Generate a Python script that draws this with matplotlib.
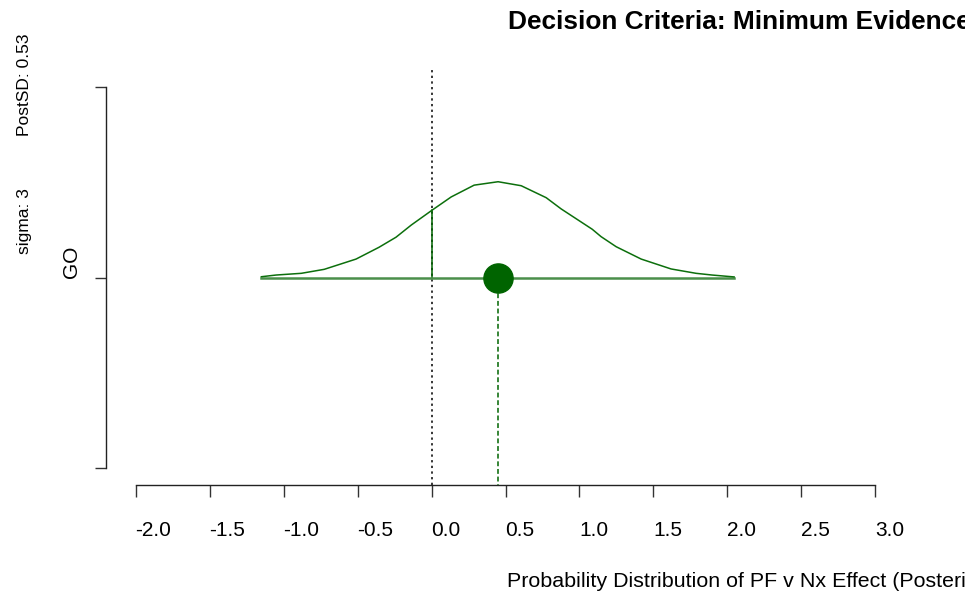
import matplotlib
matplotlib.use('Agg')
import matplotlib.pyplot as plt
import numpy as np

plt.rcParams['font.family'] = ['Liberation Sans', 'DejaVu Sans']

# posterior density curve (drawn on top of the GO row, baseline y = 1)
curve_x = [-1.15, -1.05, -0.88, -0.725, -0.51, -0.355, -0.24, -0.137, 0.005, 0.133,
           0.288, 0.45, 0.606, 0.775, 0.876, 1.086, 1.146, 1.248, 1.417, 1.619,
           1.788, 1.896, 2.045]
curve_y = [1.004, 1.013, 1.022, 1.043, 1.097, 1.159, 1.212, 1.276, 1.355, 1.424,
           1.486, 1.504, 1.483, 1.420, 1.361, 1.254, 1.215, 1.162, 1.097, 1.045,
           1.022, 1.013, 1.003]
row_y = 1.0
post_mean = 0.45
threshold = 0.0
threshold_height = 1.355

xticks = [-2.0, -1.5, -1.0, -0.5, 0.0, 0.5, 1.0, 1.5, 2.0, 2.5, 3.0]
xtick_labels = ['-2.0', '-1.5', '-1.0', '-0.5', '0.0', '0.5', '1.0', '1.5', '2.0', '2.5', '3.0']
yticks = [0, 1, 2]
ytick_labels = ['', 'GO', '']

W, H = 965, 592
fig = plt.figure(figsize=(W / 100, H / 100), dpi=100)
# plot region in pixels: x 106..905, y 70..485
ax = fig.add_axes([106 / W, 1 - 485 / H, 799 / W, 415 / H])
ax.set_xlim(-2.2, 3.2)
ax.set_ylim(-0.092, 2.092)

dark = '#006400'
ax.axvline(threshold, color='black', lw=1.1, linestyle=(0, (1.5, 2.2)), zorder=2)
ax.plot([threshold, threshold], [row_y, threshold_height], color=dark, lw=1.1, zorder=2)
ax.plot([curve_x[0], curve_x[-1]], [row_y, row_y], color='#4a8f4a', lw=1.8, zorder=3)
ax.plot(curve_x, curve_y, color='#0c6f0c', lw=1.1, zorder=3)
ax.plot([post_mean, post_mean], [row_y, -0.092], color=dark, lw=1.1,
        linestyle=(0, (3.2, 1.8)), zorder=3)
ax.plot([post_mean], [row_y], 'o', color=dark, markersize=21, zorder=4)

for s in ['top', 'right']:
    ax.spines[s].set_visible(False)
ax.spines['bottom'].set_bounds(-2, 3)
ax.spines['left'].set_bounds(0, 2)
for s in ['bottom', 'left']:
    ax.spines[s].set_linewidth(1.0)
    ax.spines[s].set_color('#222222')

ax.set_xticks(xticks)
ax.set_xticklabels(xtick_labels, fontsize=15)
ax.tick_params(axis='x', length=8.6, width=1.0, color='#333333', pad=17)
for lbl in ax.get_xticklabels():
    lbl.set_ha('left')

ax.set_yticks(yticks)
ax.set_yticklabels(ytick_labels, fontsize=15)
ax.tick_params(axis='y', length=8, width=1.0, color='#333333', pad=10)
for lbl in ax.get_yticklabels():
    lbl.set_rotation(90)
    lbl.set_ha('right')
    lbl.set_va('bottom')

fig.text(508 / W, 1 - 29 / H, 'Decision Criteria: Minimum Evidence',
         ha='left', va='baseline', fontsize=18.9, fontweight='bold')
fig.text(507 / W, 1 - 587 / H, 'Probability Distribution of PF v Nx Effect (Posterior)',
         ha='left', va='baseline', fontsize=15.4)
fig.text(29 / W, 1 - 254 / H, 'sigma: 3', rotation=90, rotation_mode='anchor',
         ha='left', va='baseline', fontsize=12.5)
fig.text(29 / W, 1 - 136 / H, 'PostSD: 0.53', rotation=90, rotation_mode='anchor',
         ha='left', va='baseline', fontsize=12.5)

fig.savefig('out.png', dpi=100)
